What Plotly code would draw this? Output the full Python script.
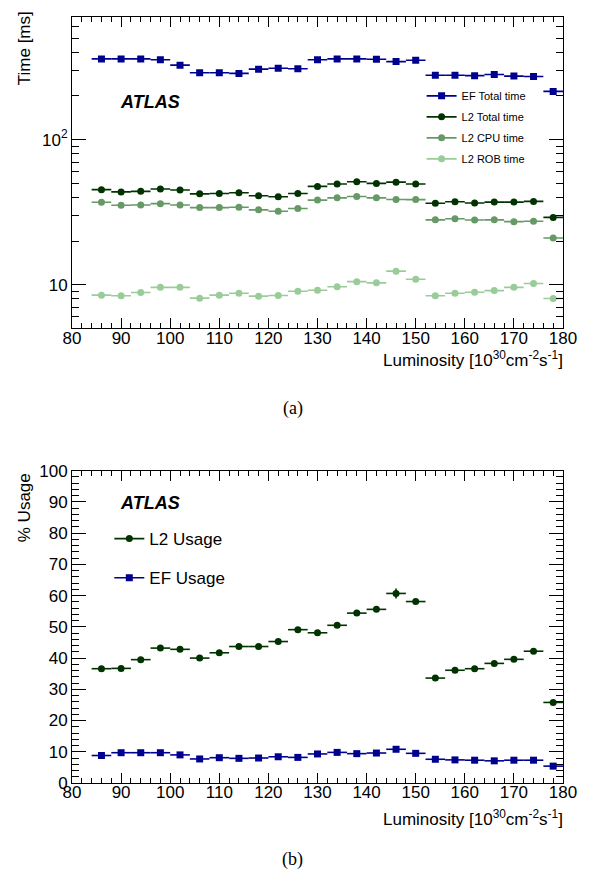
import plotly.graph_objects as go

# ---------------- data ----------------
lumi = [86, 90, 94, 98, 102, 106, 110, 114, 118, 122, 126, 130,
        134, 138, 142, 146, 150, 154, 158, 162, 166, 170, 174, 178]
half_bin = [2] * len(lumi)

ef_total = [360, 360, 360, 355, 326, 289, 289, 286, 306, 310, 308, 355,
            360, 360, 358, 345, 352, 278, 278, 276, 281, 274, 272, 215]
l2_total = [45.2, 43.6, 44.0, 45.7, 45.0, 42.3, 42.5, 43.0, 41.0, 40.4, 42.5, 47.6,
            49.4, 51.2, 49.9, 50.9, 49.4, 36.4, 37.3, 36.6, 37.1, 37.1, 37.5, 29.1]
l2_cpu = [37.0, 35.3, 35.4, 36.2, 35.4, 34.0, 34.0, 34.2, 32.8, 32.1, 33.5, 38.3,
          39.7, 40.5, 39.7, 38.7, 38.6, 28.0, 28.5, 27.9, 28.0, 27.2, 27.4, 21.0]
l2_rob = [8.47, 8.39, 8.83, 9.59, 9.59, 8.08, 8.47, 8.74, 8.34, 8.43, 9.02, 9.16,
          9.69, 10.5, 10.3, 12.4, 10.9, 8.39, 8.74, 8.87, 9.11, 9.59, 10.2, 8.04]
l2_rob_err = [0.15] * 15 + [0.6] + [0.2] * 8

l2_usage = [36.6, 36.7, 39.5, 43.2, 42.8, 40.0, 41.7, 43.7, 43.7, 45.3, 49.1, 48.1,
            50.5, 54.4, 55.6, 60.7, 58.1, 33.6, 36.1, 36.6, 38.3, 39.6, 42.2, 25.8]
l2_usage_err = [0.5] * 15 + [1.6] + [0.6] * 8
ef_usage = [8.8, 9.7, 9.7, 9.7, 9.0, 7.7, 8.1, 7.9, 8.0, 8.4, 8.2, 9.3,
            9.8, 9.4, 9.6, 10.8, 9.5, 7.6, 7.4, 7.3, 7.1, 7.3, 7.3, 5.4]

x_ticks = [80, 90, 100, 110, 120, 130, 140, 150, 160, 170, 180]
time_tickvals = [10, 100]
time_ticktext = ["10", "10<sup>2</sup>"]
time_minor = [5, 6, 7, 8, 9, 20, 30, 40, 50, 60, 70, 80, 90, 200, 300, 400, 500, 600, 700]
usage_ticks = [0, 10, 20, 30, 40, 50, 60, 70, 80, 90, 100]

C_EF = "#00008f"
C_L2T = "#003300"
C_CPU = "#669966"
C_ROB = "#99cc99"

FONT = "Liberation Sans"
SERIF = "Liberation Serif"

fig = go.Figure()


def add_series(x, y, color, symbol, name, xa, ya, legend, yerr=None):
    fig.add_trace(go.Scatter(
        x=x, y=y, mode="markers", xaxis=xa, yaxis=ya,
        marker=dict(color=color, symbol=symbol, size=7, line=dict(width=0)),
        error_x=dict(type="data", array=half_bin, symmetric=True, color=color,
                     thickness=1.6, width=0),
        error_y=dict(type="data", array=yerr if yerr else [0] * len(y), color=color,
                     thickness=1.6, width=0, visible=True),
        showlegend=False, hoverinfo="x+y",
    ))
    # legend entry (line + marker)
    fig.add_trace(go.Scatter(
        x=[None], y=[None], mode="lines+markers", xaxis=xa, yaxis=ya,
        marker=dict(color=color, symbol=symbol, size=7),
        line=dict(color=color, width=1.6), name=name, legend=legend,
        legendgroup=name,
    ))


add_series(lumi, ef_total, C_EF, "square", "EF Total time", "x", "y", "legend")
add_series(lumi, l2_total, C_L2T, "circle", "L2 Total time", "x", "y", "legend")
add_series(lumi, l2_cpu, C_CPU, "circle", "L2 CPU time", "x", "y", "legend")
add_series(lumi, l2_rob, C_ROB, "circle", "L2 ROB time", "x", "y", "legend", l2_rob_err)

add_series(lumi, l2_usage, C_L2T, "circle", "L2 Usage", "x2", "y2", "legend2", l2_usage_err)
add_series(lumi, ef_usage, C_EF, "square", "EF Usage", "x2", "y2", "legend2")

axis_common = dict(
    showline=True, linecolor="black", linewidth=1, mirror="ticks",
    ticks="inside", tickcolor="black", tickwidth=1,
    showgrid=False, zeroline=False,
    tickfont=dict(family=FONT, size=17, color="black"),
)

xcommon = dict(axis_common, range=[80, 180], tickmode="array", tickvals=x_ticks,
               ticklen=10, ticklabelstandoff=-6,
               minor=dict(ticks="inside", ticklen=5, dtick=2, tick0=80,
                          tickcolor="black", showgrid=False))

fig.update_layout(
    width=581, height=873,
    margin=dict(l=64, r=26, t=0, b=98),
    paper_bgcolor="white", plot_bgcolor="white",
    font=dict(family=FONT, color="black"),
    xaxis=dict(xcommon, anchor="y", domain=[0, 1]),
    yaxis=dict(axis_common, type="log", domain=[0.5935, 1], anchor="x",
               range=[0.69897, 2.8451], tickmode="array",
               tickvals=time_tickvals, ticktext=time_ticktext, ticklen=14,
               minor=dict(ticks="inside", ticklen=7, tickmode="array",
                          tickvals=time_minor, tickcolor="black", showgrid=False)),
    xaxis2=dict(xcommon, anchor="y2", domain=[0, 1]),
    yaxis2=dict(axis_common, domain=[0, 0.4077], anchor="x2", range=[0, 100],
                tickmode="array", tickvals=usage_ticks, ticklen=14,
                minor=dict(ticks="inside", ticklen=7, dtick=2, tick0=0,
                           tickcolor="black", showgrid=False)),
    legend=dict(x=0.712, y=0.916, xanchor="left", yanchor="top",
                bgcolor="rgba(0,0,0,0)", font=dict(family=FONT, size=11),
                tracegroupgap=2, itemwidth=30),
    legend2=dict(x=0.076, y=0.342, xanchor="left", yanchor="top",
                 bgcolor="rgba(0,0,0,0)", font=dict(family=FONT, size=17),
                 tracegroupgap=14, itemwidth=30),
    showlegend=True,
)

lumi_title = "Luminosity [10<sup>30</sup>cm<sup>-2</sup>s<sup>-1</sup>]"
ann = [
    dict(text="Time [ms]", x=-0.098, y=1.01, xanchor="center", yanchor="top",
         textangle=-90, font=dict(size=17)),
    dict(text="% Usage", x=-0.098, y=0.4075, xanchor="center", yanchor="top",
         textangle=-90, font=dict(size=17)),
    dict(text=lumi_title, x=1.005, y=0.553, xanchor="right", yanchor="middle",
         font=dict(size=17)),
    dict(text=lumi_title, x=1.005, y=-0.0452, xanchor="right", yanchor="middle",
         font=dict(size=17)),
    dict(text="<b><i>ATLAS</i></b>", x=0.094, y=0.889, xanchor="left", yanchor="middle",
         font=dict(size=18)),
    dict(text="<b><i>ATLAS</i></b>", x=0.094, y=0.366, xanchor="left", yanchor="middle",
         font=dict(size=18)),
    dict(text="(a)", x=0.45, y=0.489, xanchor="center", yanchor="middle",
         font=dict(size=18, family=SERIF)),
    dict(text="(b)", x=0.45, y=-0.0994, xanchor="center", yanchor="middle",
         font=dict(size=18, family=SERIF)),
]
for a in ann:
    a.update(xref="paper", yref="paper", showarrow=False)
    a["font"].setdefault("family", FONT)
    a["font"].setdefault("color", "black")
fig.update_layout(annotations=ann)

fig.write_html("out.html")
